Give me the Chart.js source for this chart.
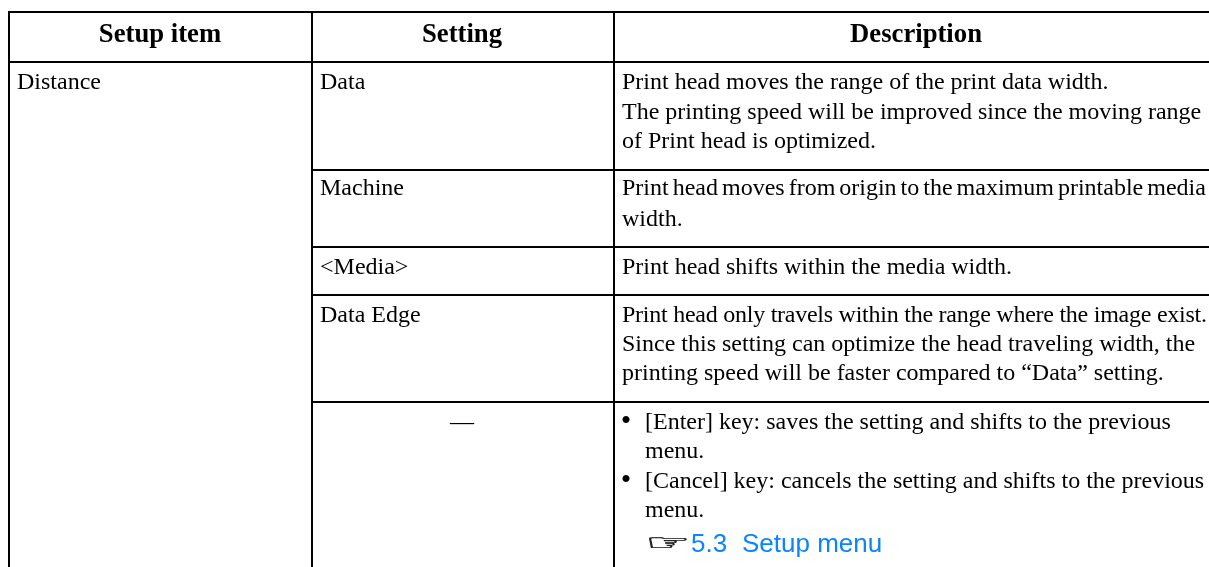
<!DOCTYPE html>
<html>
<head>
<meta charset="utf-8">
<style>
  html, body { margin: 0; padding: 0; background: #fff; }
  #wrap { width: 1209px; height: 567px; }
</style>
<script src="https://cdn.jsdelivr.net/npm/chart.js@4/dist/chart.umd.min.js"></script>
</head>
<body>
<div id="wrap"><canvas id="chart" width="1209" height="567"></canvas></div>
<script>
// table content
const headers = ["Setup item", "Setting", "Description"];
const col1Lines = ["Distance"];
const col2Lines = ["Data", "Machine", "<Media>", "Data Edge"];
const dashLines = ["—"];
const col3Lines = [
  "Print head moves the range of the print data width.",
  "The printing speed will be improved since the moving range",
  "of Print head is optimized.",
  "Print head moves from origin to the maximum printable media",
  "width.",
  "Print head shifts within the media width.",
  "Print head only travels within the range where the image exist.",
  "Since this setting can optimize the head traveling width, the",
  "printing speed will be faster compared to “Data” setting."
];
const bulletLines = [
  "[Enter] key: saves the setting and shifts to the previous",
  "menu.",
  "[Cancel] key: cancels the setting and shifts to the previous",
  "menu."
];
const linkNumber = "5.3";
const linkTitle = "Setup menu";

// table rules and text rows, on the page scale
const colEdges = [9, 312, 614];
const rowLines = [170, 247, 295, 402];
const col2Rows = [89, 195, 274, 322];
const col3Rows = [89, 119, 148, 195, 226, 274, 322, 351, 380];
const bulletRows = [429, 458, 488, 517];

function rule(x1, y1, x2, y2) {
  return {
    type: "line",
    data: [{ x: x1, y: y1 }, { x: x2, y: y2 }],
    borderColor: "#000",
    borderWidth: 2,
    pointRadius: 0,
    borderCapStyle: "square"
  };
}

const datasets = [];
datasets.push(rule(9, 12, 1209, 12));
datasets.push(rule(9, 62, 1209, 62));
rowLines.forEach((y) => datasets.push(rule(312, y, 1209, y)));
colEdges.forEach((x) => datasets.push(rule(x, 12, x, 567)));

// ---------------------------------------------------------
// Table text, placed through the scales
// ---------------------------------------------------------
const tableText = {
  id: "tableText",
  afterDatasetsDraw(chart) {
    const { ctx, scales } = chart;
    const px = (v) => scales.x.getPixelForValue(v);
    const py = (v) => scales.y.getPixelForValue(v);
    const serif = "'Liberation Serif', serif";

    ctx.save();
    ctx.fillStyle = "#000";
    ctx.textBaseline = "alphabetic";

    ctx.font = "bold 26.7px " + serif;
    ctx.textAlign = "center";
    ctx.fillText(headers[0], px(160), py(42));
    ctx.fillText(headers[1], px(462), py(42));
    ctx.fillText(headers[2], px(916), py(42));

    ctx.font = "24px " + serif;
    ctx.textAlign = "left";
    ctx.fillText(col1Lines[0], px(17), py(89));
    col2Lines.forEach((t, i) => ctx.fillText(t, px(320), py(col2Rows[i])));
    col3Lines.forEach((t, i) => {
      // these two rows are set tighter in the original
      ctx.wordSpacing = i === 3 ? "-2px" : "0px";
      ctx.letterSpacing = i === 6 ? "-0.25px" : "0px";
      ctx.fillText(t, px(622), py(col3Rows[i]));
    });
    ctx.wordSpacing = "0px";
    ctx.letterSpacing = "0px";
    bulletLines.forEach((t, i) => ctx.fillText(t, px(645), py(bulletRows[i])));

    ctx.textAlign = "center";
    ctx.fillText(dashLines[0], px(462), py(429));
    ctx.font = "30px " + serif;
    ctx.fillText("•", px(626), py(430));
    ctx.fillText("•", px(626), py(489));

    ctx.textAlign = "left";
    ctx.fillStyle = "#0a84ff";
    ctx.font = "26px 'Liberation Sans', sans-serif";
    ctx.fillText(linkNumber, px(691), py(552));
    ctx.fillText(linkTitle, px(742), py(552));

    // pointing hand, stretched to the width of the original glyph
    ctx.fillStyle = "#222";
    ctx.strokeStyle = "#222";
    ctx.lineWidth = 0.6;
    ctx.font = "26px 'DejaVu Sans', sans-serif";
    ctx.translate(px(645), py(550));
    ctx.scale(1.95, 0.85);
    ctx.fillText("☞", 0, 0);
    ctx.strokeText("☞", 0, 0);
    ctx.restore();
  }
};

new Chart(document.getElementById("chart"), {
  type: "scatter",
  data: { datasets: datasets },
  plugins: [tableText],
  options: {
    responsive: false,
    animation: false,
    layout: { padding: 0 },
    plugins: { legend: { display: false }, tooltip: { enabled: false } },
    scales: {
      x: { type: "linear", display: false, min: 0, max: 1209 },
      y: { type: "linear", display: false, min: 0, max: 567, reverse: true }
    }
  }
});
</script>
</body>
</html>
